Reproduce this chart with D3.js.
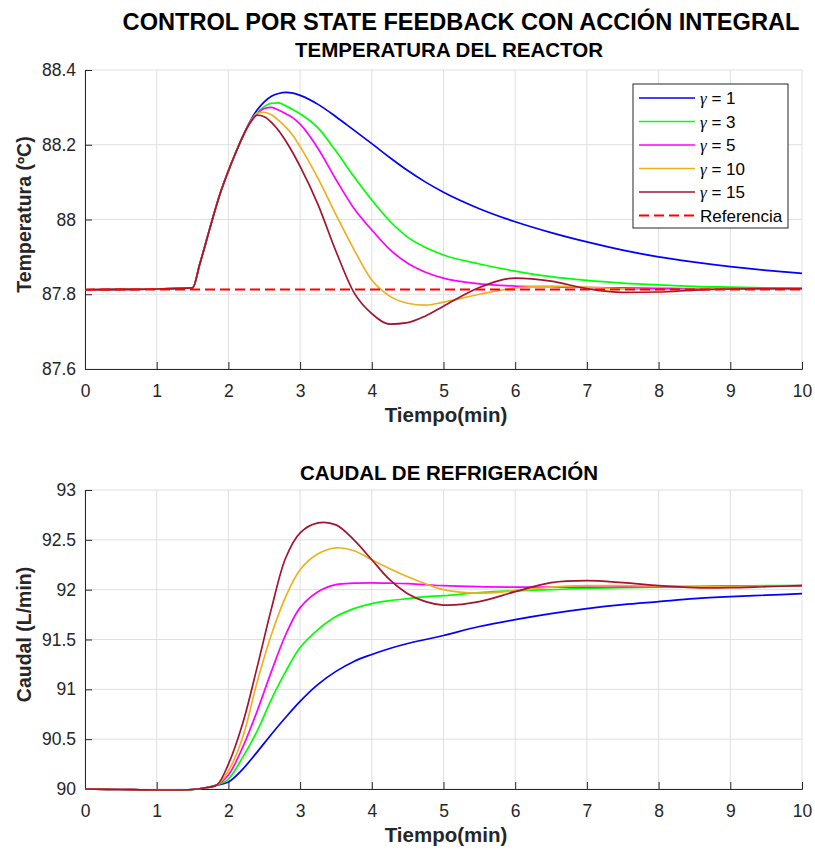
<!DOCTYPE html>
<html>
<head>
<meta charset="utf-8">
<script src="https://cdn.jsdelivr.net/npm/d3@7"></script>
<style>
  body { margin: 0; background: #fff; }
  text { font-family: "Liberation Sans", Arial, sans-serif; fill: #262626; }
</style>
</head>
<body>
<div id="chart"></div>
<script>
// ---- data ----
var tTemp = [0, 0.5, 1, 1.5, 1.6, 1.7, 1.8, 1.9, 2.0, 2.1, 2.2, 2.3, 2.4, 2.5, 2.6, 2.7, 2.8, 2.9, 3.0,
  3.25, 3.5, 3.75, 4.0, 4.25, 4.5, 4.75, 5.0, 5.5, 6.0, 6.5, 7.0, 7.5, 8.0, 8.5, 9.0, 9.5, 10];

var temp1 = [87.812, 87.813, 87.814, 87.817, 87.88, 87.948, 88.016, 88.078, 88.13, 88.178, 88.222, 88.262, 88.293, 88.315, 88.33, 88.337, 88.34, 88.338, 88.332,
  88.308, 88.275, 88.239, 88.203, 88.166, 88.131, 88.1, 88.073, 88.029, 87.994, 87.965, 87.94, 87.918, 87.90, 87.886, 87.874, 87.864, 87.856];
var temp3 = [87.812, 87.813, 87.814, 87.817, 87.88, 87.948, 88.016, 88.078, 88.13, 88.178, 88.222, 88.258, 88.285, 88.302, 88.311, 88.312, 88.304, 88.294, 88.283,
  88.245, 88.183, 88.115, 88.052, 87.996, 87.953, 87.925, 87.905, 87.881, 87.862, 87.847, 87.837, 87.83, 87.825, 87.821, 87.819, 87.817, 87.816];
var temp5 = [87.812, 87.813, 87.814, 87.817, 87.88, 87.948, 88.016, 88.078, 88.13, 88.178, 88.222, 88.258, 88.283, 88.297, 88.3, 88.293, 88.283, 88.272, 88.255,
  88.19, 88.107, 88.03, 87.972, 87.92, 87.883, 87.859, 87.843, 87.828, 87.822, 87.82, 87.818, 87.817, 87.816, 87.815, 87.815, 87.815, 87.815];
var temp10 = [87.812, 87.813, 87.814, 87.817, 87.88, 87.948, 88.016, 88.078, 88.13, 88.178, 88.222, 88.26, 88.284, 88.287, 88.28, 88.265, 88.247, 88.225, 88.195,
  88.11, 88.013, 87.92, 87.838, 87.795, 87.776, 87.771, 87.779, 87.8, 87.817, 87.822, 87.819, 87.814, 87.812, 87.813, 87.814, 87.815, 87.815];
var temp15 = [87.812, 87.813, 87.814, 87.817, 87.88, 87.948, 88.016, 88.078, 88.13, 88.178, 88.222, 88.258, 88.279, 88.275, 88.26, 88.238, 88.21, 88.178, 88.142,
  88.04, 87.915, 87.805, 87.748, 87.72, 87.724, 87.742, 87.768, 87.818, 87.843, 87.835, 87.815, 87.805, 87.806, 87.811, 87.814, 87.815, 87.815];

var tRef = [0, 10];
var tempRef = [87.813, 87.813];

var tFlow = [0, 0.5, 1, 1.5, 1.7, 1.84, 2.0, 2.2, 2.4, 2.6, 2.8, 3.0, 3.25, 3.5, 3.75, 4.0, 4.25, 4.5, 4.75, 5.0,
  5.5, 6.0, 6.5, 7.0, 7.5, 8.0, 8.5, 9.0, 9.5, 10];

var flow1 = [90.0, 89.995, 89.99, 89.995, 90.015, 90.04, 90.07, 90.2, 90.37, 90.55, 90.72, 90.88, 91.05, 91.18, 91.28, 91.35, 91.41, 91.46, 91.5, 91.54,
  91.63, 91.7, 91.76, 91.81, 91.85, 91.88, 91.91, 91.93, 91.945, 91.96];
var flow3 = [90.0, 89.995, 89.99, 89.995, 90.015, 90.04, 90.1, 90.32, 90.58, 90.9, 91.18, 91.42, 91.6, 91.73, 91.81, 91.86, 91.89, 91.91, 91.93, 91.94,
  91.97, 91.99, 92.0, 92.015, 92.02, 92.025, 92.03, 92.035, 92.04, 92.04];
var flow5 = [90.0, 89.995, 89.99, 89.995, 90.015, 90.04, 90.14, 90.42, 90.78, 91.18, 91.55, 91.82, 91.98, 92.05, 92.065, 92.068, 92.065, 92.06, 92.05, 92.04,
  92.03, 92.025, 92.025, 92.025, 92.028, 92.03, 92.032, 92.035, 92.037, 92.04];
var flow10 = [90.0, 89.995, 89.99, 89.995, 90.015, 90.04, 90.18, 90.52, 91.07, 91.55, 91.93, 92.2, 92.36, 92.42, 92.39, 92.3, 92.21, 92.13, 92.06, 92.0,
  91.965, 91.99, 92.025, 92.04, 92.04, 92.035, 92.03, 92.03, 92.035, 92.04];
var flow15 = [90.0, 89.995, 89.99, 89.995, 90.015, 90.04, 90.25, 90.66, 91.22, 91.81, 92.32, 92.57, 92.67, 92.65, 92.5, 92.3, 92.1, 91.96, 91.88, 91.845,
  91.88, 91.98, 92.07, 92.09, 92.07, 92.04, 92.02, 92.02, 92.03, 92.04];

var gammas = ["1", "3", "5", "10", "15"];
var colors = ["#0000ff", "#00ff00", "#ff00ff", "#edb120", "#a2142f"];
var refColor = "#ff0000";

var xTicks = [0, 1, 2, 3, 4, 5, 6, 7, 8, 9, 10];
var tempTicks = [87.6, 87.8, 88, 88.2, 88.4];
var flowTicks = [90, 90.5, 91, 91.5, 92, 92.5, 93];

// ---- layout ----
var W = 815, H = 850;
var svg = d3.select("#chart").append("svg")
  .attr("width", W).attr("height", H);

svg.append("text")
  .attr("x", 461).attr("y", 30)
  .attr("text-anchor", "middle")
  .style("font-size", "23.6px").style("font-weight", "bold").style("fill", "#000")
  .text("CONTROL POR STATE FEEDBACK CON ACCIÓN INTEGRAL");

function panel(opts) {
  var x = d3.scaleLinear().domain([0, 10]).range([85, 802]);
  var y = d3.scaleLinear().domain(opts.domain).range([opts.bottom, opts.top]);
  var g = svg.append("g");

  // grid
  g.append("g").selectAll("line").data(xTicks).enter().append("line")
    .attr("x1", function(d){ return x(d) }).attr("x2", function(d){ return x(d) })
    .attr("y1", opts.top).attr("y2", opts.bottom)
    .attr("stroke", "#dfdfdf").attr("stroke-width", 1);
  g.append("g").selectAll("line").data(opts.yTicks).enter().append("line")
    .attr("y1", function(d){ return y(d) }).attr("y2", function(d){ return y(d) })
    .attr("x1", 85).attr("x2", 802)
    .attr("stroke", "#dfdfdf").attr("stroke-width", 1);

  // axes, ticks pointing inside
  var xAxis = g.append("g").attr("transform", "translate(0," + opts.bottom + ")")
    .call(d3.axisBottom(x).tickValues(xTicks).tickSize(-7).tickPadding(16).tickFormat(d3.format("d")));
  var yAxis = g.append("g").attr("transform", "translate(85,0)")
    .call(d3.axisLeft(y).tickValues(opts.yTicks).tickSize(-7).tickPadding(9).tickFormat(function(d){ return String(+d.toFixed(1)) }));
  [xAxis, yAxis].forEach(function(a){
    a.select(".domain").attr("stroke", "#262626");
    a.selectAll(".tick line").attr("stroke", "#262626");
    a.selectAll(".tick text").style("font-size", "17.5px").style("font-family", "Liberation Sans, Arial, sans-serif").attr("fill", "#262626");
  });

  // lines
  var line = d3.line()
    .x(function(d){ return x(d[0]) })
    .y(function(d){ return y(d[1]) })
    .curve(opts.curve);
  opts.series.forEach(function(s, i){
    g.append("path")
      .datum(d3.zip(opts.t, s))
      .attr("fill", "none")
      .attr("stroke", colors[i])
      .attr("stroke-width", 1.7)
      .attr("d", line);
  });
  if (opts.ref) {
    g.append("path")
      .datum(d3.zip(tRef, opts.ref))
      .attr("fill", "none")
      .attr("stroke", refColor)
      .attr("stroke-width", 2)
      .attr("stroke-dasharray", "10,5")
      .attr("d", line);
  }

  // titles
  g.append("text").attr("x", 449).attr("y", opts.top - opts.titleGap).attr("text-anchor", "middle")
    .style("font-size", "20.5px").style("font-weight", "bold").style("fill", "#000")
    .text(opts.title);
  g.append("text").attr("x", 446).attr("y", opts.bottom + 53).attr("text-anchor", "middle")
    .style("font-size", "20.5px").style("font-weight", "bold").style("fill", "#262626")
    .text("Tiempo(min)");
  g.append("text")
    .attr("transform", "translate(31," + ((opts.top + opts.bottom) / 2 - 5) + ") rotate(-90)")
    .attr("text-anchor", "middle")
    .style("font-size", "19.5px").style("font-weight", "bold").style("fill", "#262626")
    .text(opts.ylabel);
  return g;
}

// top panel keeps the sharp corner at t = 1.5, so monotone there
panel({
  top: 70, bottom: 369, domain: [87.6, 88.4], yTicks: tempTicks,
  t: tTemp, series: [temp1, temp3, temp5, temp10, temp15], ref: tempRef,
  title: "TEMPERATURA DEL REACTOR", titleGap: 13, ylabel: "Temperatura (ºC)",
  curve: d3.curveMonotoneX
});

panel({
  top: 490, bottom: 789, domain: [90, 93], yTicks: flowTicks,
  t: tFlow, series: [flow1, flow3, flow5, flow10, flow15], ref: null,
  title: "CAUDAL DE REFRIGERACIÓN", titleGap: 10, ylabel: "Caudal (L/min)",
  curve: d3.curveCatmullRom.alpha(0.5)
});

// legend
var leg = svg.append("g").attr("transform", "translate(633,84)");
leg.append("rect").attr("width", 155).attr("height", 144)
  .attr("fill", "#fff").attr("stroke", "#262626").attr("stroke-width", 1);
var legItems = gammas.map(function(g, i){ return {label: g, color: colors[i], dash: null} });
legItems.push({label: null, color: refColor, dash: "10,5"});
legItems.forEach(function(d, i){
  var yy = 14 + i * 23.5;
  leg.append("line").attr("x1", 6).attr("x2", 62).attr("y1", yy).attr("y2", yy)
    .attr("stroke", d.color).attr("stroke-width", d.dash ? 2 : 1.7)
    .attr("stroke-dasharray", d.dash);
  var t = leg.append("text").attr("x", 67).attr("y", yy + 6).style("font-size", "17px").style("fill", "#000");
  if (d.label) {
    t.append("tspan").style("font-family", "Liberation Serif, serif").style("font-style", "italic").text("γ");
    t.append("tspan").text(" = " + d.label);
  } else {
    t.text("Referencia");
  }
});
</script>
</body>
</html>
